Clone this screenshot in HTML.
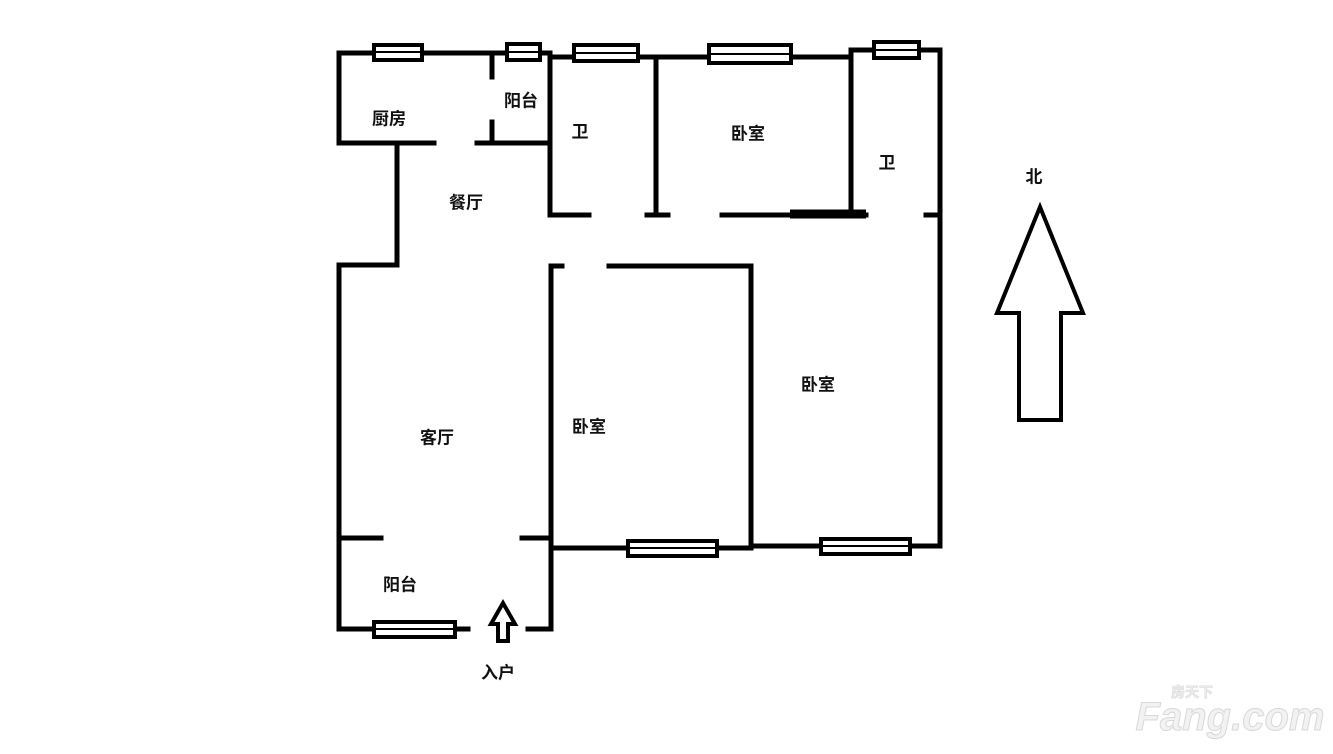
<!DOCTYPE html>
<html><head><meta charset="utf-8"><style>
html,body{margin:0;padding:0;background:#fff;}
svg{display:block}
text{font-family:"Liberation Sans","Noto Sans CJK SC",sans-serif;font-weight:bold;font-size:17px;fill:#111;text-anchor:middle;dominant-baseline:central}
</style></head><body>
<svg width="1333" height="754" viewBox="0 0 1333 754" xmlns="http://www.w3.org/2000/svg">
<rect width="1333" height="754" fill="#fff"/>
<g stroke="#000" stroke-width="5" fill="none" stroke-linecap="square">
<!-- top walls -->
<line x1="339" y1="53" x2="548" y2="53"/>
<line x1="550" y1="57" x2="851" y2="57"/>
<line x1="851" y1="50" x2="940" y2="50"/>
<!-- kitchen -->
<line x1="339" y1="53" x2="339" y2="143"/>
<line x1="339" y1="143" x2="434" y2="143"/>
<line x1="477" y1="143" x2="548" y2="143"/>
<line x1="492" y1="55" x2="492" y2="77"/>
<line x1="492" y1="122" x2="492" y2="143"/>
<!-- bath 1 -->
<line x1="550" y1="53" x2="550" y2="215"/>
<line x1="550" y1="215" x2="589" y2="215"/>
<line x1="647" y1="215" x2="668" y2="215"/>
<line x1="656" y1="57" x2="656" y2="215"/>
<!-- bedroom top -->
<line x1="722" y1="215" x2="866" y2="215"/>
<line x1="851" y1="50" x2="851" y2="215"/>
<line x1="926" y1="215" x2="940" y2="215"/>
<line x1="940" y1="50" x2="940" y2="546"/>
<!-- dining -->
<line x1="397" y1="143" x2="397" y2="265"/>
<line x1="339" y1="265" x2="397" y2="265"/>
<line x1="339" y1="265" x2="339" y2="629"/>
<!-- bedroom 2 -->
<line x1="551" y1="266" x2="562" y2="266"/>
<line x1="609" y1="266" x2="751" y2="266"/>
<line x1="551" y1="266" x2="551" y2="629"/>
<line x1="751" y1="266" x2="751" y2="547"/>
<line x1="551" y1="548" x2="751" y2="548"/>
<line x1="751" y1="546" x2="940" y2="546"/>
<!-- balcony -->
<line x1="339" y1="538" x2="381" y2="538"/>
<line x1="522" y1="538" x2="551" y2="538"/>
<line x1="339" y1="629" x2="468" y2="629"/>
<line x1="528" y1="629" x2="551" y2="629"/>
</g>
<g stroke="#000" stroke-width="9" stroke-linecap="butt"><line x1="790" y1="214" x2="866" y2="214"/></g>
<!-- windows -->
<g fill="#fff" stroke="#000" stroke-width="4">
<rect x="374" y="45" width="48" height="15"/>
<rect x="507" y="44" width="33" height="16"/>
<rect x="574" y="45" width="64" height="16"/>
<rect x="709" y="45" width="82" height="18"/>
<rect x="874" y="42" width="45" height="16"/>
<rect x="628" y="541" width="89" height="15"/>
<rect x="821" y="539" width="89" height="15"/>
<rect x="374" y="622" width="81" height="15"/>
</g>
<g stroke="#000" stroke-width="2">
<line x1="374" y1="52" x2="422" y2="52"/>
<line x1="507" y1="52" x2="540" y2="52"/>
<line x1="574" y1="53" x2="638" y2="53"/>
<line x1="709" y1="54" x2="791" y2="54"/>
<line x1="874" y1="50" x2="919" y2="50"/>
<line x1="628" y1="548" x2="717" y2="548"/>
<line x1="821" y1="546" x2="910" y2="546"/>
<line x1="374" y1="629" x2="455" y2="629"/>
</g>
<!-- entry arrow -->
<polygon points="503,603 491,624 498,624 498,641 508,641 508,624 515,624" fill="#fff" stroke="#000" stroke-width="4"/>
<!-- north arrow -->
<polygon points="1040,207 997,313 1019,313 1019,420 1061,420 1061,313 1083,313" fill="#fff" stroke="#000" stroke-width="4"/>
<text x="389" y="119">厨房</text>
<text x="521" y="101">阳台</text>
<text x="580" y="132">卫</text>
<text x="748" y="134">卧室</text>
<text x="887" y="163">卫</text>
<text x="466" y="203">餐厅</text>
<text x="437" y="438">客厅</text>
<text x="589" y="427">卧室</text>
<text x="818" y="385">卧室</text>
<text x="400" y="585">阳台</text>
<text x="498" y="673">入户</text>
<text x="1034" y="177">北</text>
<text x="1230" y="717" style="font-size:40px;fill:#f2f2f2;stroke:#d8d8d8;stroke-width:1;font-style:italic">Fang.com</text>
<text x="1192" y="692" style="font-size:14px;fill:#eee;stroke:#d8d8d8;stroke-width:0.6">房天下</text>
</svg>
</body></html>
